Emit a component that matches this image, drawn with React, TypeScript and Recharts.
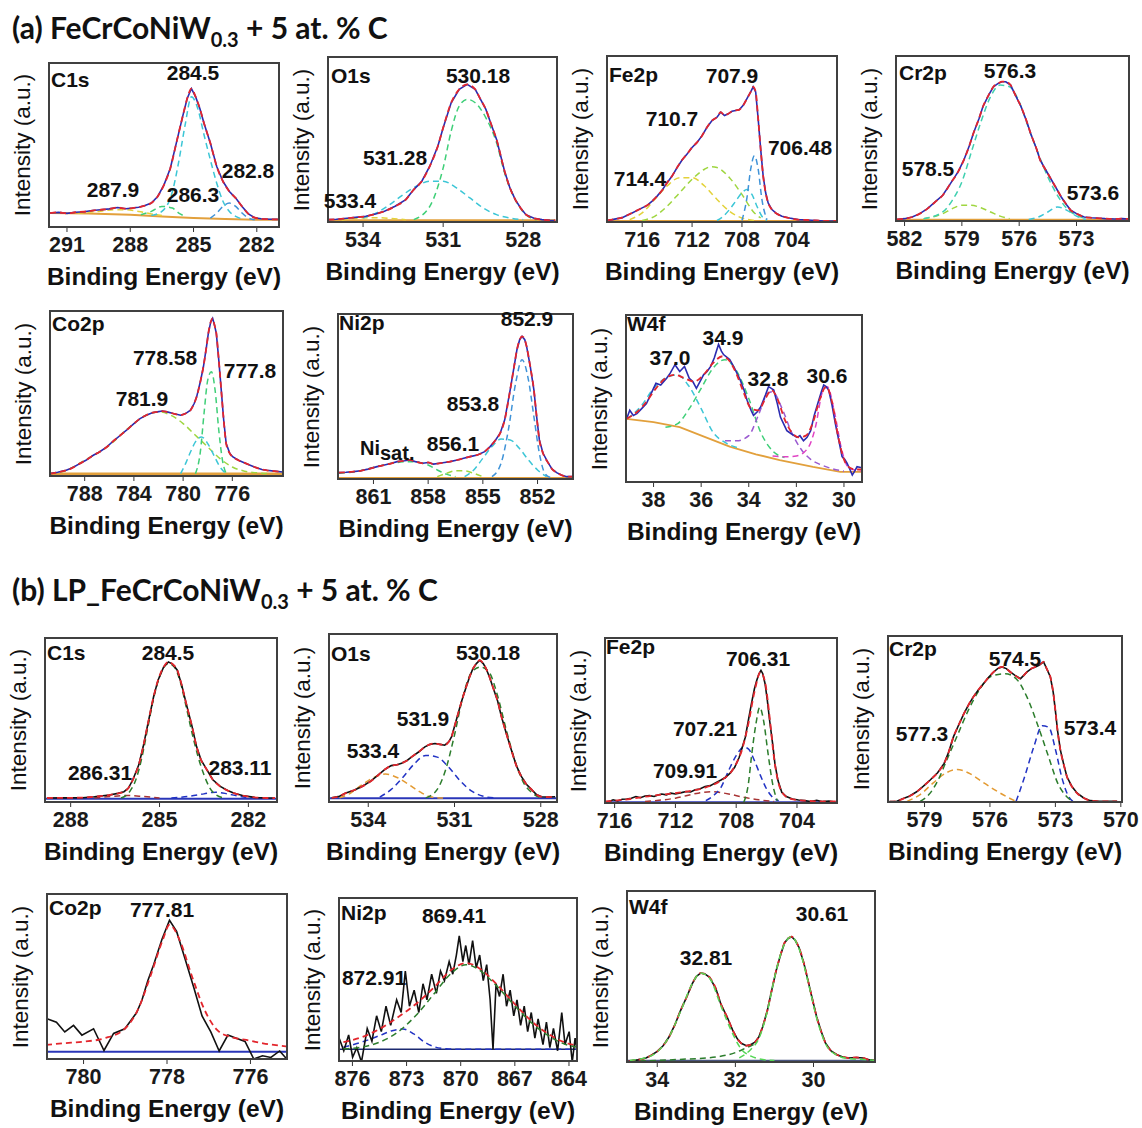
import React from "react";
import { LineChart, Line, XAxis, YAxis } from "recharts";

// XPS spectra, [binding energy (eV), intensity in % of panel height]
type Pts = [number, number][];

// ---------- (a) FeCrCoNiW0.3 + 5 at. % C ----------
const aC1sRaw: Pts = [[291.8,9],[291.4,9.4],[291,8.8],[290.6,9.5],[290.2,9.8],[289.8,10.5],[289.4,11],[289,11.5],[288.6,12.3],[288.2,11.6],[287.9,12],[287.6,12.5],[287.3,13.5],[287,15],[286.7,19],[286.4,26],[286.1,36],[285.8,52],[285.5,68],[285.3,78],[285.1,84],[284.9,79],[284.7,72],[284.5,63],[284.2,51],[283.9,37],[283.6,28],[283.3,22],[283,18],[282.7,13],[282.4,8.5],[282.1,6.2],[281.8,5.6],[281.4,5.3],[281,5.2]];
const aC1sBg: Pts = [[291.8,9],[290,8.8],[288,8],[286.5,7],[285,6],[283.5,5.4],[282,5],[281,5]];
const aC1sMain: Pts = [[287,7.5],[286.5,10],[286,22],[285.7,40],[285.4,62],[285.1,79],[284.8,72],[284.5,56],[284.2,41],[283.9,27],[283.6,16],[283.3,10],[283,7],[282.7,5.5]];
const aC1sLow: Pts = [[284.2,6],[283.9,9],[283.6,13],[283.3,15],[283,13],[282.7,9],[282.4,6],[282.1,5]];
const aC1sMid: Pts = [[287.5,8],[287,10],[286.5,13],[286,12],[285.7,9],[285.4,7]];
const aC1sHigh: Pts = [[290.5,9],[289.5,10],[288.8,11],[288.2,11],[287.6,10],[287,8.5],[286.5,7.5]];

const aO1sRaw: Pts = [[535.3,2],[535,2.2],[534.6,2.8],[534.2,3.5],[533.9,4],[533.5,5.5],[533.2,7],[532.8,10],[532.4,14],[532.1,20],[531.8,25],[531.5,34],[531.2,46],[531,57],[530.7,72],[530.4,80],[530.1,83],[529.8,80],[529.6,74],[529.4,68],[529.2,59],[529,50],[528.7,31],[528.5,21],[528.3,14],[528.1,9],[527.9,5],[527.6,2.8],[527.3,2],[527,1.6],[526.8,1.5]];
const aO1sBg: Pts = [[535.3,1.5],[526.8,1.5]];
const aO1sMain: Pts = [[532.1,2],[531.5,10],[531,33],[530.7,55],[530.4,70],[530.1,74],[529.8,72],[529.4,63],[529,48],[528.7,30],[528.3,14],[527.9,5],[527.5,2]];
const aO1sMid: Pts = [[534,3],[533.5,6],[533,11],[532.5,17],[532,22],[531.5,25],[531,25],[530.5,21],[530,15],[529.5,9],[529,5],[528.5,3],[528,2]];
const aO1sHigh: Pts = [[534.8,1.8],[534.2,2.8],[533.6,3.2],[533,2.8],[532.4,2]];

const aFeRaw: Pts = [[718.8,1.5],[718.4,2],[718,2.6],[717.6,3.2],[717.2,4.6],[716.8,6],[716.4,7.5],[716,9],[715.6,10.5],[715.2,13],[714.8,16],[714.4,19.5],[714,24],[713.6,28],[713.2,33],[712.8,37.5],[712.4,41],[712,45],[711.6,48],[711.2,52],[710.8,57],[710.4,61],[710,63],[709.7,66],[709.4,64],[709.1,65],[708.8,66.5],[708.5,67],[708.2,67.5],[707.9,70],[707.6,74],[707.3,78],[707.1,81],[706.9,78],[706.7,62],[706.5,44],[706.3,28],[706.1,18],[705.9,12],[705.6,8],[705.2,5.5],[704.8,4],[704.2,3],[703.5,2],[702.8,1.8],[702,1.5],[701.4,1.2],[700.8,1.2],[700.4,1.2]];
const aFeBg: Pts = [[718.8,1],[700.4,1]];
const aFe714: Pts = [[717,2],[716,6],[715,14],[714,22],[713,27],[712,27],[711,22],[710,14],[709,7],[708,3],[707,1.5]];
const aFe710: Pts = [[716,1.5],[715,4],[714,10],[713,18],[712,26],[711,32],[710.5,33.5],[710,33],[709,27],[708,17],[707,6],[706.5,3]];
const aFe708: Pts = [[710,1.5],[709.5,4],[709,8],[708.5,13],[708,18],[707.6,20],[707.2,17],[706.8,10],[706.4,4],[706,1.5]];
const aFe706: Pts = [[708,1.5],[707.6,15],[707.3,32],[707,40],[706.7,32],[706.4,14],[706,2]];

const aCrRaw: Pts = [[582.4,1.5],[582,2],[581.6,3],[581.2,5],[580.8,8],[580.4,12],[580,16],[579.6,23],[579.2,30],[578.9,37],[578.6,46],[578.4,53],[578.1,62],[577.9,69],[577.6,76],[577.35,81],[577.1,83],[576.9,84],[576.7,84],[576.45,82],[576.2,76],[575.9,69],[575.6,60],[575.4,53],[575.1,44],[574.9,37],[574.6,31],[574.3,25],[574,19],[573.8,15],[573.5,10],[573.3,7],[573,5],[572.6,3],[572.2,2.5],[571.8,2.2],[571.5,2],[571,1.8],[570.6,2],[570.3,1.8]];
const aCrBg: Pts = [[582.4,1.2],[570.3,1.2]];
const aCrMain: Pts = [[581,2],[580,6],[579.5,13],[579,24],[578.5,42],[578,60],[577.5,75],[577,82],[576.5,81],[576,72],[575.5,56],[575,41],[574.5,27],[574,16],[573.5,8],[573,4],[572.5,2]];
const aCrHigh: Pts = [[581,2],[580,5],[579.5,8],[579,10],[578.5,10],[578,8.5],[577.5,6],[577,3.5],[576.5,2]];
const aCrLow: Pts = [[575.5,1.5],[575,3],[574.5,6],[574,9],[573.5,7],[573,3.5],[572.5,1.5]];

const aCoRaw: Pts = [[790.8,2],[790.2,2.8],[789.5,4],[789,5.5],[788.4,8],[787.9,10],[787.3,13],[786.8,15],[786.2,18],[785.6,22],[785.1,25],[784.6,28],[784,32],[783.5,35],[783,37],[782.5,38.5],[782.1,39],[781.7,39.5],[781.3,39],[780.8,38],[780.2,37],[779.8,38],[779.4,40],[779.1,44],[778.9,48],[778.6,57],[778.35,66],[778.1,78],[777.95,86],[777.75,93],[777.6,95],[777.45,91],[777.3,86],[777.1,70],[776.9,52],[776.7,34],[776.5,20],[776.2,14],[775.95,12],[775.5,10],[774.85,8],[774.2,6],[773.6,4.5],[773.2,4],[772.6,3.5],[771.9,3]];
const aCoBg: Pts = [[790.8,2],[771.9,2]];
const aCoSat: Pts = [[790.8,2],[789.5,4],[788,10],[786,19],[784.5,29],[783,37],[782,39],[781,37],[780,32],[779,25],[778,18],[777,11],[776,6],[775,3.5],[774,2.5],[773,2]];
const aCo777: Pts = [[779,2],[778.6,15],[778.3,38],[778,58],[777.7,63],[777.4,52],[777.1,28],[776.8,10],[776.5,2]];
const aCo778: Pts = [[780.2,2],[779.8,8],[779.4,15],[779,21],[778.5,24],[778,20],[777.5,13],[777,6],[776.5,2]];

const aNiRaw: Pts = [[862.9,4.4],[862.5,4.6],[862.1,5],[861.7,5.5],[861.3,6.5],[860.8,8],[860.4,9],[860,10],[859.7,11],[859.3,11.5],[859,12],[858.7,11],[858.3,10],[858,10.5],[857.7,9.5],[857.4,10],[857.1,10.5],[856.8,11],[856.4,12],[856.05,13],[855.7,14],[855.3,15],[854.9,17],[854.6,20],[854.3,24],[854.05,28],[853.8,36],[853.5,54],[853.3,67],[853.13,78],[852.98,84],[852.85,86],[852.7,84],[852.6,80],[852.4,68],[852.2,54],[852.05,38],[851.9,24],[851.7,16],[851.4,10],[851.2,6.5],[850.95,4.4],[850.7,3],[850.4,2],[850.1,2]];
const aNiBg: Pts = [[862.9,1],[850.1,1]];
const aNiSat: Pts = [[862.9,4],[862,5],[861,7.5],[860,10],[859,11],[858,9],[857.5,6],[857,3.5],[856.5,2]];
const aNi856: Pts = [[857.5,2],[857,4],[856.5,5.5],[856,5.5],[855.5,4],[855,2]];
const aNi854: Pts = [[856,2],[855.5,6],[855,13],[854.5,20],[854,24.5],[853.5,24],[853,19],[852.5,12],[852,6],[851.5,2]];
const aNi853: Pts = [[854.5,2],[854,10],[853.6,30],[853.2,58],[852.85,72],[852.5,60],[852.2,38],[851.9,16],[851.6,4],[851.3,1.5]];

const aWRaw: Pts = [[39.13,38],[39,43],[38.85,40],[38.7,41],[38.5,44],[38.3,47],[38.1,53],[37.9,59],[37.7,58],[37.45,62],[37.3,65],[37.1,70],[36.9,66],[36.7,69],[36.5,62],[36.35,60],[36.2,56],[36.05,60],[35.9,64],[35.75,66],[35.6,69],[35.45,74],[35.27,82],[35.15,78],[35.06,76],[34.8,73],[34.6,68],[34.36,61],[34.2,55],[34.07,49],[33.9,43],[33.8,40],[33.65,42],[33.5,45],[33.3,52],[33.17,57],[33.05,56],[32.95,55],[32.8,47],[32.67,39],[32.5,34],[32.4,31],[32.2,29],[31.97,27],[31.85,28],[31.7,25],[31.55,27],[31.4,31],[31.25,40],[31.1,47],[30.95,54],[30.85,58],[30.75,57],[30.64,55],[30.5,46],[30.36,35],[30.2,24],[30.08,15.6],[29.97,14],[29.87,11.7],[29.75,8],[29.65,4.7],[29.55,7],[29.45,9.6],[29.25,9]];
const aWFit: Pts = [[39.13,38],[38.7,42],[38.3,48],[37.9,56],[37.5,62],[37.1,64],[36.7,62],[36.3,60],[35.9,64],[35.5,71],[35.1,75],[34.8,72],[34.5,64],[34.2,53],[33.9,44],[33.6,43],[33.3,50],[33.05,55],[32.8,50],[32.5,38],[32.2,30],[31.9,27],[31.6,28],[31.3,36],[31,50],[30.75,57],[30.5,48],[30.25,28],[30,14],[29.75,9],[29.5,8],[29.25,8]];
const aWBg: Pts = [[39.13,38],[38,36],[36.9,33],[35.8,27],[34.8,21.5],[33.7,17],[32.7,13.6],[31.3,9.5],[30.15,6.6],[29.25,6.6]];
const aW37: Pts = [[39.1,38],[38.5,46],[38,56],[37.5,62],[37,64],[36.5,57],[36,44],[35.5,30],[35,24],[34.5,21]];
const aW35: Pts = [[37.5,33],[37,35],[36.5,44],[36,56],[35.5,68],[35,73],[34.5,66],[34,50],[33.5,30],[33,19],[32.5,15]];
const aW33: Pts = [[35,25],[34.5,25],[34,28],[33.6,40],[33.2,53],[33,54],[32.6,44],[32.2,30],[31.8,20],[31.4,14],[31,11],[30.5,8.5],[30,7]];
const aW31: Pts = [[33,16],[32.5,15.5],[32,16],[31.5,21],[31.2,33],[30.9,54],[30.7,57],[30.4,42],[30.1,20],[29.8,9],[29.3,7]];

// ---------- (b) LP_FeCrCoNiW0.3 + 5 at. % C ----------
const bC1sRaw: Pts = [[288.8,3],[288.3,3.1],[287.6,3.2],[287.2,3.8],[286.7,4.8],[286.4,5.8],[286.2,6.8],[286.05,9],[285.9,14],[285.7,23],[285.55,34],[285.4,47],[285.2,64],[285.05,74],[284.86,82],[284.7,85],[284.55,83.5],[284.4,80],[284.25,71],[284.1,60],[283.9,46],[283.75,34],[283.6,26],[283.4,20],[283.2,14],[282.95,10],[282.7,7.5],[282.5,6],[282.2,4.5],[281.8,3.4],[281.4,3],[281.1,3]];
const bC1sBase: Pts = [[288.9,2.5],[281,2.5]];
const bC1sMain: Pts = [[286.3,3],[286,7],[285.8,14],[285.6,27],[285.4,45],[285.2,63],[285,76],[284.8,83],[284.7,84],[284.5,82],[284.3,73],[284.1,58],[283.9,42],[283.7,28],[283.5,17],[283.3,9],[283.1,5],[282.8,3]];
const bC1sLow: Pts = [[284.6,3],[284,4],[283.5,5.5],[283.1,6.5],[282.7,5.5],[282.3,4],[281.9,3]];
const bC1sHigh: Pts = [[287.2,3],[286.6,4],[286.1,4.5],[285.6,4],[285,3]];

const bO1sRaw: Pts = [[535.27,3],[535,4],[534.8,5.7],[534.5,7.5],[534.23,9.6],[533.9,13],[533.65,16.5],[533.4,20],[533.2,22],[533,22.5],[532.84,23.4],[532.65,25],[532.5,27],[532.25,30],[532.03,33],[531.85,34.5],[531.68,35],[531.5,34.5],[531.34,34],[531.2,36],[531.1,39],[531,45],[530.9,51],[530.75,60],[530.6,68],[530.48,74],[530.36,79],[530.24,82],[530.12,84],[530,82],[529.9,79],[529.78,74],[529.66,68],[529.5,60],[529.37,51],[529.2,41],[529.02,31],[528.85,22],[528.67,15.5],[528.5,11],[528.3,7.6],[528.15,5],[527.98,3.7],[527.75,3.5],[527.5,3.7]];
const bO1sBase: Pts = [[535.4,2.8],[527.4,2.8]];
const bO1sMain: Pts = [[532,3],[531.6,8],[531.3,20],[531,40],[530.7,63],[530.4,77],[530.1,80],[529.8,77],[529.5,63],[529.2,43],[528.9,25],[528.6,12],[528.3,6],[528,3]];
const bO1sMid: Pts = [[533.6,3.5],[533.2,8],[532.8,15],[532.4,23],[532,28],[531.6,27],[531.2,21],[530.8,13],[530.4,7],[530,4],[529.6,3]];
const bO1sHigh: Pts = [[535,3],[534.6,6],[534.2,11],[533.8,15],[533.4,17],[533,15],[532.6,11],[532.2,6.5],[531.8,3.5],[531.4,3]];

const bFeRaw: Pts = [[716.6,1.2],[716.4,1.4],[716.1,2.5],[715.8,1.8],[715.5,2.8],[715.2,3],[714.9,3.4],[714.6,4.5],[714.3,3.8],[714,4.8],[713.7,5],[713.4,4.5],[713.15,5.4],[712.9,6],[712.6,5.5],[712.3,6.5],[712,6],[711.6,6.8],[711.3,7.5],[711,7.2],[710.7,8.5],[710.4,9],[710.05,10.4],[709.7,11],[709.4,12.5],[709,14.4],[708.7,16],[708.4,18.5],[708.1,22],[707.8,28],[707.6,34],[707.4,40],[707.2,50],[707,60],[706.8,69],[706.65,74],[706.5,78],[706.37,80],[706.25,78],[706.1,72],[705.95,62],[705.8,50],[705.6,36],[705.45,24],[705.25,14],[705,7],[704.7,4.5],[704.3,3],[703.9,2.4],[703.5,2],[703.1,1.5],[702.7,2.2],[702.3,1.4],[701.9,1.8],[701.5,1.2]];
const bFeFit: Pts = [[716.6,1.5],[715,3],[713.5,5],[712,6.5],[711,7.8],[710,10],[709,14],[708.2,21],[707.6,33],[707.2,48],[706.8,67],[706.4,79],[706.1,73],[705.8,52],[705.5,27],[705.2,12],[704.9,6],[704.4,3],[703.5,2],[702,1.5],[701.4,1.5]];
const bFeBase: Pts = [[716.7,1],[701.3,1]];
const bFe706: Pts = [[707.5,1],[707.2,12],[707,28],[706.7,48],[706.45,58],[706.2,50],[705.9,30],[705.6,12],[705.3,2]];
const bFe707: Pts = [[710,2],[709.5,5],[709,10],[708.5,20],[708,29],[707.5,34],[707.2,33],[706.8,26],[706.4,17],[706,9],[705.6,4],[705.2,2]];
const bFe710: Pts = [[714,1.5],[712,3.5],[710.5,6.5],[709.6,7.4],[708.5,6],[707.5,4],[706.5,2.5],[705.5,1.5]];

const bCrRaw: Pts = [[580.6,0.8],[580.27,1],[580,2.5],[579.7,4],[579.36,6.7],[579.05,10],[578.74,13.7],[578.4,18],[578.1,23.6],[577.9,30],[577.67,39.5],[577.45,46],[577.2,53],[577,58],[576.77,63],[576.55,67],[576.3,71],[576.05,75],[575.83,78],[575.65,80],[575.45,81],[575.25,80],[575.07,78],[574.85,76],[574.6,74],[574.45,76],[574.3,78],[574.1,80],[573.92,81],[573.75,82],[573.54,84],[573.4,80],[573.23,75],[573.1,66],[573,55],[572.9,43],[572.77,31.5],[572.6,22],[572.47,15.6],[572.25,10],[572,5.8],[571.7,3],[571.4,1.4],[571,1],[570.6,1],[570.17,1]];
const bCrBase: Pts = [[580.72,0.8],[569.9,0.8]];
const bCr575: Pts = [[579.2,1],[578.8,5],[578.4,13],[578,25],[577.5,40],[577,55],[576.5,67],[576,75],[575.3,77],[574.8,74],[574.3,63],[573.8,46],[573.3,27],[572.9,12],[572.5,4],[572.2,1]];
const bCr577: Pts = [[579.8,1],[579.2,5],[578.6,12],[578,18],[577.5,20],[577,18],[576.4,13],[575.8,8],[575.2,3.5],[574.8,1]];
const bCr573: Pts = [[574.8,1],[574.4,16],[574,33],[573.6,46],[573.3,45],[573,32],[572.7,15],[572.4,4],[572.2,1]];

const bCoRaw: Pts = [[780.86,24.5],[780.65,22.6],[780.45,16.8],[780.24,20.7],[780.04,14.9],[779.76,18.7],[779.51,5.7],[779.28,15.9],[779.01,18.7],[778.73,28.3],[778.6,35.9],[778.46,47.4],[778.32,57],[778.12,72.3],[777.94,83.7],[777.77,77],[777.57,60.8],[777.36,43.6],[777.16,26.4],[776.95,16.8],[776.75,5.4],[776.54,14.9],[776.34,13],[776.13,11.1],[775.92,0.6],[775.71,2.5],[775.51,1.5],[775.3,5.4],[775.13,0.6]];
const bCoFit: Pts = [[780.9,9],[780.5,10],[780,11],[779.5,13],[779,19],[778.7,30],[778.4,50],[778.1,72],[777.94,81],[777.7,72],[777.4,50],[777.1,30],[776.8,18],[776.5,14],[776.1,12],[775.7,10],[775.1,8]];
const bCoBase: Pts = [[780.9,5],[775.1,5]];

const bNiRaw: Pts = [[876.74,14.5],[876.48,6.8],[876.21,16.4],[875.99,2.9],[875.76,8.7],[875.5,0],[875.18,20.3],[874.92,12.6],[874.66,28],[874.4,18.4],[874.14,33.8],[873.88,22.2],[873.55,37.7],[873.3,30],[873.07,55.1],[872.84,33.8],[872.58,43.5],[872.32,30],[872.09,47.4],[871.87,37.7],[871.61,53.2],[871.35,41.6],[871.12,55.1],[870.9,49.3],[870.64,60.9],[870.44,53.2],[870.24,64.8],[870.08,76.4],[869.88,60.9],[869.72,70.6],[869.54,59],[869.34,73.5],[869.14,57.1],[868.95,64.8],[868.75,49.3],[868.56,59],[868.37,37.7],[868.21,7.7],[868.04,47.4],[867.85,39.7],[867.65,53.2],[867.46,33.8],[867.26,43.5],[867.06,28],[866.88,37.7],[866.68,22.2],[866.48,33.8],[866.29,18.4],[866.09,30],[865.89,14.5],[865.71,26.1],[865.44,10.6],[865.25,24.2],[865.06,8.7],[864.86,20.3],[864.63,6.8],[864.4,30],[864.22,10.6],[863.99,18.4],[863.82,0],[863.66,14.5],[863.5,2.9]];
const bNiFit: Pts = [[876.5,12],[875.5,15],[874.5,20],[873.5,27],[872.5,35],[871.5,45],[870.5,56],[869.7,60],[869,57],[868,47],[867,35],[866,24],[865,16],[864,11],[863.5,10]];
const bNiBase: Pts = [[876.8,7.7],[863.5,7.7]];
const bNi869: Pts = [[876.5,8],[875.5,9],[874.5,12],[873.5,18],[872.5,28],[871.5,41],[870.5,54],[869.7,59],[869,56],[868,46],[867,34],[866,23],[865,15],[864,10],[863.5,9]];
const bNi873: Pts = [[876.5,9],[875.5,12],[874.5,16],[873.8,19],[873.2,20],[872.6,17],[872,12],[871.4,9],[870.8,8],[870,7.7],[863.5,7.7]];

const bWRaw: Pts = [[34.73,1],[34.5,1.8],[34.29,2.9],[34.15,4.5],[34,6.7],[33.85,10],[33.7,15],[33.55,22],[33.41,30],[33.25,38],[33.1,46],[33,50],[32.89,52],[32.78,51.5],[32.66,49.5],[32.5,43],[32.37,34],[32.2,26],[32.07,19],[31.95,14],[31.85,11.4],[31.72,10],[31.62,10.5],[31.5,12],[31.4,15],[31.3,21],[31.18,30.5],[31.07,42],[30.96,53],[30.85,62],[30.74,69.5],[30.65,72],[30.56,73],[30.47,71],[30.37,66.7],[30.25,58],[30.14,47.6],[30.03,37],[29.92,26.7],[29.8,18],[29.69,11.4],[29.55,7],[29.4,4.8],[29.25,3.5],[29.1,2.9],[28.9,3.2],[28.73,2.9],[28.6,2],[28.44,1.5]];
const bWBase: Pts = [[34.8,1],[28.4,1]];
const bW33: Pts = [[34.7,1.5],[34.3,3],[34,6.5],[33.7,15],[33.4,30],[33.1,46],[32.9,52],[32.66,49],[32.37,33],[32.07,17],[31.85,8],[31.6,4],[31.3,2],[31,1.5]];
const bW31: Pts = [[31.9,3],[31.6,8],[31.4,14],[31.18,30],[30.96,53],[30.74,69],[30.56,73],[30.37,66],[30.14,47],[29.92,26],[29.69,11],[29.4,4.5],[29.1,2.5],[28.7,2],[28.4,1.5]];
const bWTail: Pts = [[34.7,1],[33.5,2],[32.5,3.5],[32,6],[31.7,9],[31.5,11]];

// ---------- styling ----------
const FONT = "'Liberation Sans', Arial, Helvetica, sans-serif";
const RAW_A = "#2b2bb0";
const RAW_B = "#111111";
const FIT = "#e3262d";
const BG_A = "#e2a03c";
const BASE_B = "#2a36b8";
const CYAN = "#3cc6d6";
const LBLUE = "#3f93d8";
const GREEN = "#3fcf78";
const YGREEN = "#9fd640";
const YELLOW = "#e3d23a";
const PURPLE = "#9a5ad0";
const MAGENTA = "#e043c4";
const DGREEN = "#2c7d2c";
const DBLUE = "#2233c4";
const ORANGE = "#e39a32";
const BROWN = "#a83434";
const LGREEN = "#55d655";

type Curve = { pts: Pts; color: string; dash?: boolean; w?: number; smooth?: boolean };
type Note = [string, number, number];
type Spec = {
  name: string;
  nameAt: [number, number];
  box: [number, number, number, number];
  domain: [number, number];
  ticks: number[];
  curves: Curve[];
  notes: Note[];
};

const raw = (pts: Pts, color: string): Curve => ({ pts, color, w: 1.6 });
const fit = (pts: Pts): Curve => ({ pts, color: FIT, dash: true, w: 1.8, smooth: true });
const comp = (pts: Pts, color: string): Curve => ({ pts, color, dash: true, w: 1.5, smooth: true });
const base = (pts: Pts, color: string, w = 2): Curve => ({ pts, color, w });

const panels: Spec[] = [
  {
    name: "C1s", nameAt: [51, 79], box: [48, 62, 232, 166], domain: [280.9, 291.9], ticks: [291, 288, 285, 282],
    curves: [base(aC1sBg, BG_A), comp(aC1sHigh, YELLOW), comp(aC1sMid, GREEN), comp(aC1sLow, LBLUE), comp(aC1sMain, CYAN), raw(aC1sRaw, RAW_A), fit(aC1sRaw)],
    notes: [["284.5", 193, 72], ["287.9", 113, 189], ["286.3", 193, 194], ["282.8", 248, 170]],
  },
  {
    name: "O1s", nameAt: [331, 75], box: [327, 56, 231, 167], domain: [526.7, 535.35], ticks: [534, 531, 528],
    curves: [base(aO1sBg, BG_A, 2.5), comp(aO1sHigh, YELLOW), comp(aO1sMid, CYAN), comp(aO1sMain, GREEN), raw(aO1sRaw, RAW_A), fit(aO1sRaw)],
    notes: [["530.18", 478, 75], ["531.28", 395, 157], ["533.4", 350, 200]],
  },
  {
    name: "Fe2p", nameAt: [609, 74], box: [606, 55, 232, 168], domain: [700.3, 718.9], ticks: [716, 712, 708, 704],
    curves: [base(aFeBg, BG_A, 2.5), comp(aFe714, YELLOW), comp(aFe710, YGREEN), comp(aFe708, CYAN), comp(aFe706, LBLUE), raw(aFeRaw, RAW_A), fit(aFeRaw)],
    notes: [["707.9", 732, 75], ["710.7", 672, 118], ["706.48", 800, 147], ["714.4", 640, 178]],
  },
  {
    name: "Cr2p", nameAt: [899, 72], box: [895, 55, 235, 167], domain: [570.2, 582.5], ticks: [582, 579, 576, 573],
    curves: [base(aCrBg, BG_A, 2.5), comp(aCrHigh, YGREEN), comp(aCrLow, CYAN), comp(aCrMain, "#40d0b0"), raw(aCrRaw, RAW_A), fit(aCrRaw)],
    notes: [["576.3", 1010, 70], ["578.5", 928, 168], ["573.6", 1093, 192]],
  },
  {
    name: "Co2p", nameAt: [52, 323], box: [49, 310, 235, 167], domain: [771.8, 790.9], ticks: [788, 784, 780, 776],
    curves: [base(aCoBg, BG_A, 2.5), comp(aCoSat, YGREEN), comp(aCo778, CYAN), comp(aCo777, GREEN), raw(aCoRaw, RAW_A), fit(aCoRaw)],
    notes: [["778.58", 165, 357], ["777.8", 250, 370], ["781.9", 142, 398]],
  },
  {
    name: "Ni2p", nameAt: [339, 322], box: [337, 313, 237, 167], domain: [850, 863], ticks: [861, 858, 855, 852],
    curves: [base(aNiBg, BG_A, 2.5), comp(aNiSat, GREEN), comp(aNi856, YGREEN), comp(aNi854, CYAN), comp(aNi853, LBLUE), raw(aNiRaw, RAW_A), fit(aNiRaw)],
    notes: [["852.9", 527, 318], ["853.8", 473, 403], ["856.1", 453, 443]],
  },
  {
    name: "W4f", nameAt: [627, 323], box: [625, 314, 238, 169], domain: [29.2, 39.2], ticks: [38, 36, 34, 32, 30],
    curves: [base(aWBg, BG_A, 1.8), comp(aW37, CYAN), comp(aW35, GREEN), comp(aW33, PURPLE), comp(aW31, MAGENTA), raw(aWRaw, RAW_A), fit(aWFit)],
    notes: [["34.9", 723, 337], ["37.0", 670, 357], ["32.8", 768, 378], ["30.6", 827, 375]],
  },
  {
    name: "C1s", nameAt: [47, 652], box: [44, 637, 234, 166], domain: [281, 288.9], ticks: [288, 285, 282],
    curves: [base(bC1sBase, BASE_B), comp(bC1sHigh, BROWN), comp(bC1sLow, DBLUE), comp(bC1sMain, DGREEN), raw(bC1sRaw, RAW_B), fit(bC1sRaw)],
    notes: [["284.5", 168, 652], ["286.31", 100, 772], ["283.11", 240, 767]],
  },
  {
    name: "O1s", nameAt: [331, 653], box: [328, 633, 230, 170], domain: [527.4, 535.4], ticks: [534, 531, 528],
    curves: [base(bO1sBase, BASE_B), comp(bO1sHigh, ORANGE), comp(bO1sMid, DBLUE), comp(bO1sMain, DGREEN), raw(bO1sRaw, RAW_B), fit(bO1sRaw)],
    notes: [["530.18", 488, 652], ["531.9", 423, 718], ["533.4", 373, 750]],
  },
  {
    name: "Fe2p", nameAt: [606, 646], box: [604, 637, 234, 167], domain: [701.3, 716.7], ticks: [716, 712, 708, 704],
    curves: [base(bFeBase, BASE_B), comp(bFe710, BROWN), comp(bFe707, DBLUE), comp(bFe706, DGREEN), raw(bFeRaw, RAW_B), fit(bFeFit)],
    notes: [["706.31", 758, 658], ["707.21", 705, 728], ["709.91", 685, 770]],
  },
  {
    name: "Cr2p", nameAt: [889, 648], box: [887, 635, 236, 168], domain: [569.9, 580.72], ticks: [579, 576, 573, 570],
    curves: [base(bCrBase, BASE_B, 1.5), comp(bCr577, ORANGE), comp(bCr573, DBLUE), comp(bCr575, DGREEN), raw(bCrRaw, RAW_B), fit(bCrRaw)],
    notes: [["574.5", 1015, 658], ["577.3", 922, 733], ["573.4", 1090, 727]],
  },
  {
    name: "Co2p", nameAt: [49, 907], box: [46, 893, 242, 167], domain: [775.1, 780.9], ticks: [780, 778, 776],
    curves: [base(bCoBase, BASE_B), raw(bCoRaw, RAW_B), fit(bCoFit)],
    notes: [["777.81", 162, 909]],
  },
  {
    name: "Ni2p", nameAt: [341, 912], box: [338, 897, 240, 165], domain: [863.5, 876.8], ticks: [876, 873, 870, 867, 864],
    curves: [base(bNiBase, "#1c2a70", 1.5), comp(bNi873, DBLUE), raw(bNiRaw, RAW_B), fit(bNiFit), comp(bNi869, DGREEN)],
    notes: [["869.41", 454, 915], ["872.91", 374, 977]],
  },
  {
    name: "W4f", nameAt: [629, 906], box: [626, 890, 250, 173], domain: [28.4, 34.8], ticks: [34, 32, 30],
    curves: [base(bWBase, "#4a5580", 3), comp(bWTail, DGREEN), raw(bWRaw, RAW_B), fit(bWRaw), comp(bW33, LGREEN), comp(bW31, LGREEN)],
    notes: [["30.61", 822, 913], ["32.81", 706, 957]],
  },
];

const PAD = 26;
const AX_H = 34;

function Panel({ s }: { s: Spec }) {
  const [x, y, w, h] = s.box;
  return (
    <>
      <div style={{ position: "absolute", left: x - PAD, top: y }}>
        <LineChart width={w + PAD * 2} height={h + AX_H} margin={{ top: 0, right: PAD, bottom: 0, left: PAD }}>
          <XAxis
            type="number"
            dataKey="e"
            domain={s.domain}
            reversed
            allowDataOverflow
            ticks={s.ticks}
            interval={0}
            height={AX_H}
            axisLine={false}
            tickLine={{ stroke: "#333" }}
            tickSize={4}
            tickMargin={5}
            tick={{ fontSize: 21.5, fontWeight: 700, fill: "#1a1a1a", fontFamily: FONT }}
          />
          <YAxis hide type="number" domain={[0, 100]} allowDataOverflow />
          {s.curves.map((c, i) => (
            <Line
              key={i}
              data={c.pts.map(([e, v]) => ({ e, v }))}
              dataKey="v"
              type={c.smooth ? "monotone" : "linear"}
              stroke={c.color}
              strokeWidth={c.w ?? 1.5}
              strokeDasharray={c.dash ? "6 4" : undefined}
              dot={false}
              activeDot={false}
              isAnimationActive={false}
            />
          ))}
        </LineChart>
      </div>
      <div
        style={{
          position: "absolute", left: x, top: y, width: w, height: h,
          border: "2px solid #404040", boxSizing: "border-box", pointerEvents: "none",
        }}
      />
      <div style={{ position: "absolute", left: s.nameAt[0], top: s.nameAt[1], transform: "translateY(-50%)", fontSize: 21, fontWeight: 700, lineHeight: 1 }}>
        {s.name}
      </div>
      {s.notes.map(([t, cx, cy], i) => (
        <div key={i} style={{ position: "absolute", left: cx, top: cy, transform: "translate(-50%,-50%)", fontSize: 21, fontWeight: 700, lineHeight: 1, whiteSpace: "nowrap" }}>
          {t}
        </div>
      ))}
      <div
        style={{
          position: "absolute", left: x - 25, top: y + h / 2, transform: "translate(-50%,-50%) rotate(-90deg)",
          fontSize: 22.5, whiteSpace: "nowrap", lineHeight: 1,
        }}
      >
        Intensity (a.u.)
      </div>
      <div
        style={{
          position: "absolute", left: x + w / 2, top: y + h + 49, transform: "translate(-50%,-50%)",
          fontSize: 24.5, fontWeight: 700, whiteSpace: "nowrap", lineHeight: 1,
        }}
      >
        Binding Energy (eV)
      </div>
    </>
  );
}

const titleStyle: React.CSSProperties = {
  position: "absolute", left: 12, fontFamily: "Lato, 'Open Sans', sans-serif", fontWeight: 700,
  fontSize: 30, lineHeight: "34px", whiteSpace: "nowrap",
};
const subStyle: React.CSSProperties = { fontSize: 20, position: "relative", top: 8 };

export default function App() {
  return (
    <div style={{ position: "absolute", left: 0, top: 0, width: 1142, height: 1128, background: "#fff", fontFamily: FONT, color: "#111", overflow: "hidden" }}>
      <div style={{ ...titleStyle, top: 10 }}>
        (a) FeCrCoNiW<span style={subStyle}>0.3</span> + 5 at. % C
      </div>
      <div style={{ ...titleStyle, top: 572 }}>
        (b) LP_FeCrCoNiW<span style={subStyle}>0.3</span> + 5 at. % C
      </div>
      {panels.map((s, i) => (
        <Panel key={i} s={s} />
      ))}
      <div style={{ position: "absolute", left: 360, top: 448, transform: "translateY(-50%)", fontSize: 20, fontWeight: 700, lineHeight: 1, whiteSpace: "nowrap" }}>
        Ni<span style={{ position: "relative", top: 5 }}>sat.</span>
      </div>
    </div>
  );
}
